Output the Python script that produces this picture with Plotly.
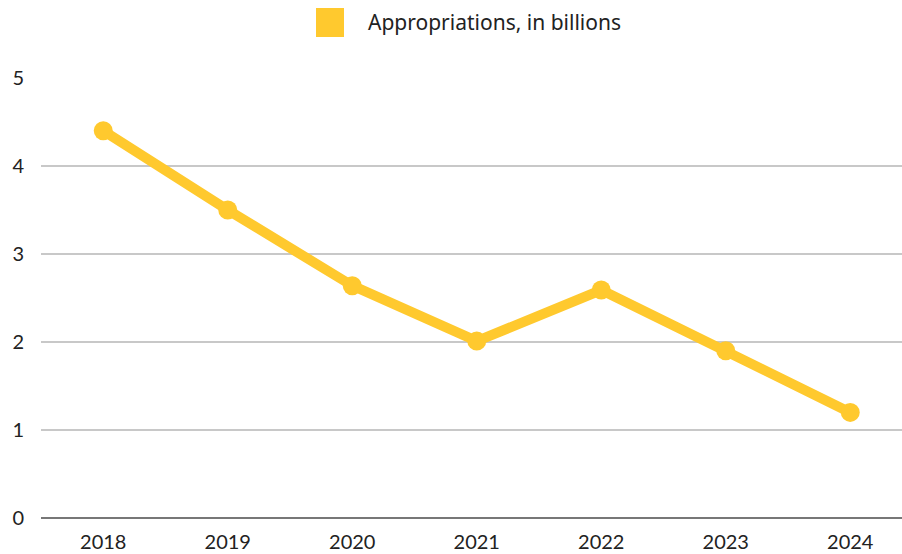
import plotly.graph_objects as go

years = ["2018", "2019", "2020", "2021", "2022", "2023", "2024"]
appropriations = [4.40, 3.50, 2.64, 2.01, 2.59, 1.90, 1.20]
series_name = "Appropriations, in billions"
y_ticks = [0, 1, 2, 3, 4, 5]

COLOR = "#FFC92E"
FONT = "Lato"

fig = go.Figure()
fig.add_trace(go.Scatter(
    x=years, y=appropriations, mode="lines+markers",
    name=series_name, showlegend=False,
    line=dict(color=COLOR, width=10),
    marker=dict(color=COLOR, size=19),
    cliponaxis=False,
))

W, H = 902, 554
L, R, T, B = 41, 0, 78, 36
pw, ph = W - L - R, H - T - B

def px(x):
    return (x - L) / pw

def py(y):
    return (H - B - y) / ph

# manual legend
fig.add_shape(type="rect", xref="paper", yref="paper",
              x0=px(316), x1=px(344), y0=py(37), y1=py(8),
              fillcolor=COLOR, line=dict(width=0))
fig.add_annotation(text=series_name, xref="paper", yref="paper",
                   x=px(366), y=py(22), xanchor="left", yanchor="middle",
                   showarrow=False, font=dict(family="Noto Sans", size=21, color="#222"))

band = 124.5
xmax = -0.5 + pw / band

fig.update_layout(
    width=W, height=H,
    margin=dict(l=L, r=R, t=T, b=B),
    plot_bgcolor="white", paper_bgcolor="white",
    font=dict(family=FONT, size=20, color="#222"),
    xaxis=dict(type="category", range=[-0.5, xmax], showgrid=False,
               showline=False, ticks="", zeroline=False, ticklabelstandoff=10),
    yaxis=dict(range=[0, 5], tickvals=y_ticks, showgrid=True,
               gridcolor="#c8c8c8", gridwidth=1.5, zeroline=True,
               zerolinecolor="#777", zerolinewidth=2, ticks="",
               ticklabelstandoff=16, showline=False),
)

fig.write_html("out.html")
